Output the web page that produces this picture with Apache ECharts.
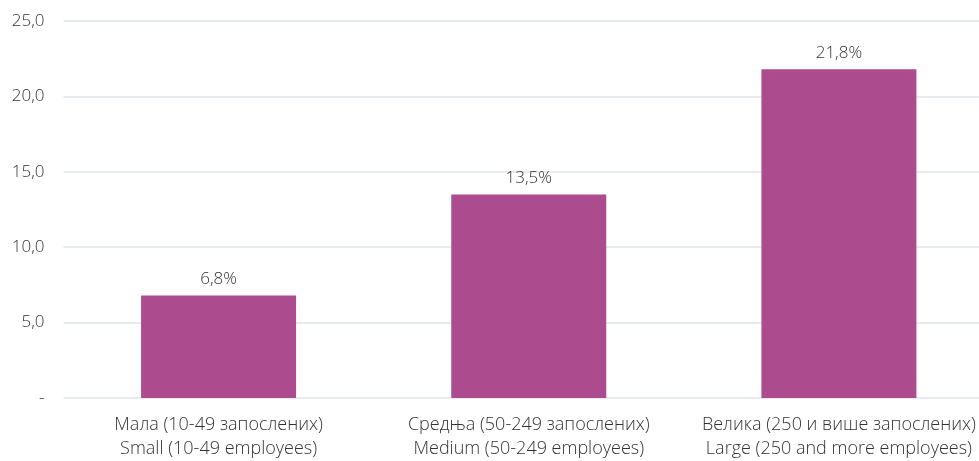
<!DOCTYPE html>
<html><head><meta charset="utf-8">
<script src="https://cdn.jsdelivr.net/npm/echarts@6/dist/echarts.min.js"></script>
<style>html,body{margin:0;padding:0;background:#fff;overflow:hidden;width:979px;height:461px}#c{width:994px;height:461px}</style>
</head><body><div id="c"></div>
<script>
const categories = ["Мала (10-49 запослених)\nSmall (10-49 employees)", "Средња (50-249 запослених)\nMedium (50-249 employees)", "Велика (250 и више запослених)\nLarge (250 and more employees)"];
const values = [6.8, 13.5, 21.8];
const yTicks = [0, 5, 10, 15, 20, 25];
const FONT = "'Open Sans', 'Noto Sans', sans-serif";
const chart = echarts.init(document.getElementById('c'), null, {renderer: 'canvas'});
chart.setOption({
  animation: false,
  grid: {left: 63.5, top: 21, right: 0, bottom: 61, containLabel: false},
  xAxis: {
    type: 'category', data: categories,
    axisLine: {show: false}, axisTick: {show: false},
    axisLabel: {color: '#333333', fontFamily: FONT, fontWeight: 300, fontSize: 18, lineHeight: 24, margin: 15, interval: 0}
  },
  yAxis: {
    type: 'value', min: 0, max: 25, interval: 5,
    axisLine: {show: false}, axisTick: {show: false},
    splitLine: {lineStyle: {color: '#e1e4e9', width: 1.5}},
    axisLabel: {color: '#333333', fontFamily: FONT, fontWeight: 300, fontSize: 17, margin: 19,
      formatter: v => yTicks.includes(v) ? (v === 0 ? '-' : v.toFixed(1).replace('.', ',')) : ''}
  },
  series: [{
    type: 'bar', data: values, barWidth: 155,
    itemStyle: {color: '#ac4c8e'},
    label: {show: true, position: 'top', distance: 8, color: '#333333', fontFamily: FONT, fontWeight: 300, fontSize: 17,
      formatter: p => p.value.toFixed(1).replace('.', ',') + '%'}
  }]
});
</script></body></html>
